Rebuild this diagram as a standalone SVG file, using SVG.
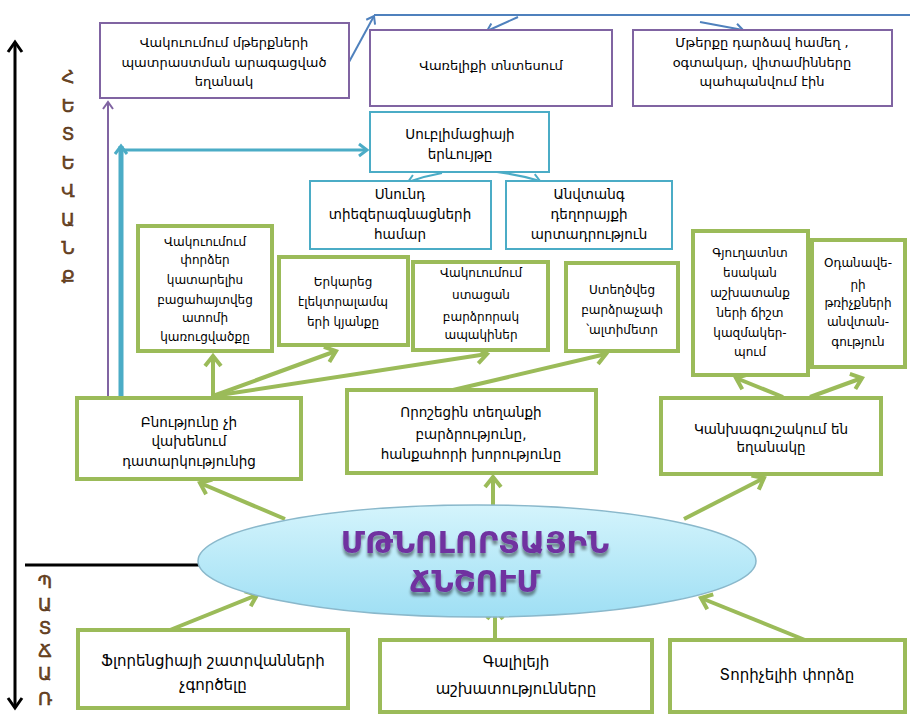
<svg xmlns="http://www.w3.org/2000/svg" width="910" height="720" viewBox="0 0 910 720">
<defs>
<style>
text{font-family:"DejaVu Sans",sans-serif;font-size:12px;fill:#000;text-anchor:middle;}
.t13{font-size:13px;}
.t135{font-size:13.5px;}
.big{font-size:15px;}
.g{fill:#fff;stroke:#9bbb59;stroke-width:4;}
.p{fill:#fff;stroke:#8064a2;stroke-width:2;}
.b{fill:#fff;stroke:#4bacc6;stroke-width:2;}
.ga{stroke:#9bbb59;stroke-width:4;fill:none;marker-end:url(#ag);}
.ba{stroke:#4bacc6;fill:none;}
.pa{stroke:#4f81bd;stroke-width:2;fill:none;}
.lab{font-size:18px;fill:#7a4a1c;stroke:#3a2410;stroke-width:0.5;}
.title{font-size:31px;font-weight:bold;fill:#7030a0;}
</style>
<marker id="ag" markerUnits="userSpaceOnUse" markerWidth="24" markerHeight="24" refX="12" refY="10" orient="auto" viewBox="0 0 24 20">
<path d="M2,2 L12,10 L2,18" fill="none" stroke="#9bbb59" stroke-width="4"/>
</marker>
<marker id="ab" markerUnits="userSpaceOnUse" markerWidth="18" markerHeight="18" refX="10" refY="8" orient="auto" viewBox="0 0 18 16">
<path d="M2,2 L10,8 L2,14" fill="none" stroke="#4bacc6" stroke-width="3"/>
</marker>
<marker id="abs" markerUnits="userSpaceOnUse" markerWidth="14" markerHeight="14" refX="8" refY="6" orient="auto" viewBox="0 0 14 12">
<path d="M1,1 L8,6 L1,11" fill="none" stroke="#4bacc6" stroke-width="2"/>
</marker>
<marker id="ap" markerUnits="userSpaceOnUse" markerWidth="14" markerHeight="14" refX="8" refY="6" orient="auto" viewBox="0 0 14 12">
<path d="M1,1 L8,6 L1,11" fill="none" stroke="#8064a2" stroke-width="2"/>
</marker>
<marker id="au" markerUnits="userSpaceOnUse" markerWidth="14" markerHeight="14" refX="8" refY="6" orient="auto" viewBox="0 0 14 12">
<path d="M1,1 L8,6 L1,11" fill="none" stroke="#4f81bd" stroke-width="2"/>
</marker>
<marker id="ak" markerUnits="userSpaceOnUse" markerWidth="20" markerHeight="20" refX="11" refY="8" orient="auto-start-reverse" viewBox="0 0 20 16">
<path d="M1,1 L11,8 L1,15" fill="none" stroke="#000" stroke-width="3"/>
</marker>
<linearGradient id="eg" x1="0" y1="0" x2="0" y2="1">
<stop offset="0" stop-color="#d4f4fc"/>
<stop offset="1" stop-color="#9fdff4"/>
</linearGradient>
<filter id="sh" x="-10%" y="-10%" width="120%" height="140%">
<feGaussianBlur in="SourceAlpha" stdDeviation="1.5"/>
<feOffset dx="0" dy="4" result="o"/>
<feComponentTransfer><feFuncA type="linear" slope="0.45"/></feComponentTransfer>
<feMerge><feMergeNode/><feMergeNode in="SourceGraphic"/></feMerge>
</filter>
</defs>
<rect width="910" height="720" fill="#fff"/>

<g id="axis">
<line x1="15" y1="42" x2="15" y2="708" stroke="#000" stroke-width="3" marker-start="url(#ak)" marker-end="url(#ak)"/>
<line x1="25" y1="565" x2="205" y2="565" stroke="#000" stroke-width="3"/>
<text x="68" y="83" class="lab">Հ</text>
<text x="68" y="112" class="lab">Ե</text>
<text x="68" y="140" class="lab">Տ</text>
<text x="68" y="169" class="lab">Ե</text>
<text x="68" y="197" class="lab">Վ</text>
<text x="68" y="226" class="lab">Ա</text>
<text x="68" y="254" class="lab">Ն</text>
<text x="68" y="283" class="lab">Ք</text>
<text x="45" y="588" class="lab">Պ</text>
<text x="45" y="611" class="lab">Ա</text>
<text x="45" y="634" class="lab">Տ</text>
<text x="45" y="657" class="lab">Ճ</text>
<text x="45" y="680" class="lab">Ա</text>
<text x="45" y="705" class="lab">Ռ</text>
</g>

<g id="connectors">
<path class="pa" d="M349,62 L374,16" marker-end="url(#au)"/>
<line class="pa" x1="374" y1="15" x2="910" y2="15"/>
<path class="pa" d="M518,17 L487,31" marker-end="url(#au)"/>
<path class="pa" d="M700,22 L743,30" marker-end="url(#au)"/>
<line x1="108" y1="398" x2="108" y2="102" stroke="#8064a2" stroke-width="2" marker-end="url(#ap)"/>
<line class="ba" x1="121" y1="398" x2="121" y2="146" stroke-width="5" marker-end="url(#ab)"/>
<line class="ba" x1="124" y1="150" x2="367" y2="150" stroke-width="3" marker-end="url(#ab)"/>
<path class="ba" d="M442,173 Q425,176 408,182" stroke-width="2" marker-end="url(#abs)"/>
<path class="ba" d="M497,172 Q520,175 540,181" stroke-width="2" marker-end="url(#abs)"/>
<line class="ga" x1="213" y1="396" x2="213" y2="356"/>
<line class="ga" x1="213" y1="396" x2="336" y2="351"/>
<line class="ga" x1="213" y1="396" x2="487" y2="354"/>
<line class="ga" x1="453" y1="390" x2="606" y2="354"/>
<line class="ga" x1="783" y1="397" x2="736" y2="378"/>
<line class="ga" x1="810" y1="397" x2="862" y2="378"/>
<line class="ga" x1="285" y1="519" x2="200" y2="483"/>
<line class="ga" x1="493" y1="505" x2="493" y2="477"/>
<line class="ga" x1="684" y1="519" x2="764" y2="478"/>
<line class="ga" x1="170" y1="630" x2="257" y2="595"/>
<line class="ga" x1="495" y1="640" x2="495" y2="609"/>
<line class="ga" x1="805" y1="640" x2="701" y2="598"/>
</g>

<g id="n-vakuum-mterq">
<rect class="p" x="100" y="23" width="249" height="75"/>
<text class="t13" x="224" y="47">Վակուումում մթերքների</text>
<text class="t13" x="224" y="67">պատրաստման արագացված</text>
<text class="t13" x="224" y="86">եղանակ</text>
</g>
<g id="n-varelik">
<rect class="p" x="370" y="30" width="242" height="76"/>
<text class="t13" x="491" y="70">Վառելիքի տնտեսում</text>
</g>
<g id="n-mterqy">
<rect class="p" x="633" y="30" width="259" height="76"/>
<text class="t13" x="762" y="47">Մթերքը դարձավ համեղ ,</text>
<text class="t13" x="762" y="67">օգտակար, վիտամինները</text>
<text class="t13" x="762" y="86">պահպանվում էին</text>
</g>
<g id="n-sublimacia">
<rect class="b" x="370" y="112" width="179" height="60"/>
<text class="t135" x="460" y="139">Սուբլիմացիայի</text>
<text class="t135" x="460" y="159">երևույթը</text>
</g>
<g id="n-snund">
<rect class="b" x="310" y="181" width="181" height="68"/>
<text class="t135" x="400" y="199">Սնունդ</text>
<text class="t135" x="400" y="219">տիեզերագնացների</text>
<text class="t135" x="400" y="239">համար</text>
</g>
<g id="n-anvtang">
<rect class="b" x="506" y="181" width="166" height="68"/>
<text class="t135" x="589" y="199">Անվտանգ</text>
<text class="t135" x="589" y="219">դեղորայքի</text>
<text class="t135" x="589" y="239">արտադրություն</text>
</g>
<g id="n-atom">
<rect class="g" x="138" y="226" width="134" height="125"/>
<text x="205" y="246">Վակուումում</text>
<text x="205" y="264">փորձեր</text>
<text x="205" y="284">կատարելիս</text>
<text x="205" y="304">բացահայտվեց</text>
<text x="205" y="322">ատոմի</text>
<text x="205" y="341">կառուցվածքը</text>
</g>
<g id="n-lamp">
<rect class="g" x="279" y="257" width="129" height="88"/>
<text x="343" y="286">Երկարեց</text>
<text x="343" y="306">էլեկտրալամպ</text>
<text x="343" y="326">երի կյանքը</text>
</g>
<g id="n-apaki">
<rect class="g" x="413" y="262" width="135" height="88"/>
<text x="481" y="277">Վակուումում</text>
<text x="481" y="299">ստացան</text>
<text x="481" y="321">բարձրորակ</text>
<text x="481" y="339">ապակիներ</text>
</g>
<g id="n-altimetr">
<rect class="g" x="566" y="263" width="112" height="88"/>
<text x="622" y="294">Ստեղծվեց</text>
<text x="622" y="314">բարձրաչափ</text>
<text x="622" y="334">՝ալտիմետր</text>
</g>
<g id="n-gyugh">
<rect class="g" x="693" y="231" width="115" height="144"/>
<text x="750" y="257">Գյուղատնտ</text>
<text x="750" y="277">եսական</text>
<text x="750" y="297">աշխատանք</text>
<text x="750" y="317">ների ճիշտ</text>
<text x="750" y="337">կազմակեր-</text>
<text x="750" y="356">պում</text>
</g>
<g id="n-odanav">
<rect class="g" x="812" y="240" width="93" height="127"/>
<text x="858" y="267">Օդանավե-</text>
<text x="858" y="289">րի</text>
<text x="858" y="307">թռիչքների</text>
<text x="858" y="326">անվտան-</text>
<text x="858" y="346">գություն</text>
</g>
<g id="n-bnutyun">
<rect class="g" x="77" y="398" width="224" height="81"/>
<text class="t135" x="189" y="427">Բնությունը չի</text>
<text class="t135" x="189" y="446">վախենում</text>
<text class="t135" x="189" y="466">դատարկությունից</text>
</g>
<g id="n-voroshecin">
<rect class="g" x="347" y="390" width="249" height="83"/>
<text class="t135" x="471" y="417">Որոշեցին տեղանքի</text>
<text class="t135" x="471" y="439">բարձրությունը,</text>
<text class="t135" x="471" y="459">հանքահորի խորությունը</text>
</g>
<g id="n-kankhagushak">
<rect class="g" x="661" y="398" width="220" height="76"/>
<text class="t135" x="771" y="434">Կանխագուշակում  են</text>
<text class="t135" x="771" y="452">եղանակը</text>
</g>

<g id="n-center">
<ellipse cx="477" cy="561" rx="279" ry="56" fill="url(#eg)" stroke="#8ab8cb" stroke-width="1.5"/>
<g filter="url(#sh)">
<text class="title" x="475" y="553">ՄԹՆՈԼՈՐՏԱՅԻՆ</text>
<text class="title" x="475" y="592">ՃՆՇՈՒՄ</text>
</g>
</g>

<g id="n-florencia">
<rect class="g" x="78" y="630" width="270" height="78"/>
<text class="big" x="213" y="666">Ֆլորենցիայի շատրվանների</text>
<text class="big" x="213" y="690">չգործելը</text>
</g>
<g id="n-galiley">
<rect class="g" x="380" y="640" width="272" height="72"/>
<text class="big" x="516" y="667">Գալիլեյի</text>
<text class="big" x="516" y="694">աշխատությունները</text>
</g>
<g id="n-torichel">
<rect class="g" x="670" y="640" width="235" height="72"/>
<text class="big" x="787" y="680">Տորիչելիի փորձը</text>
</g>
</svg>
